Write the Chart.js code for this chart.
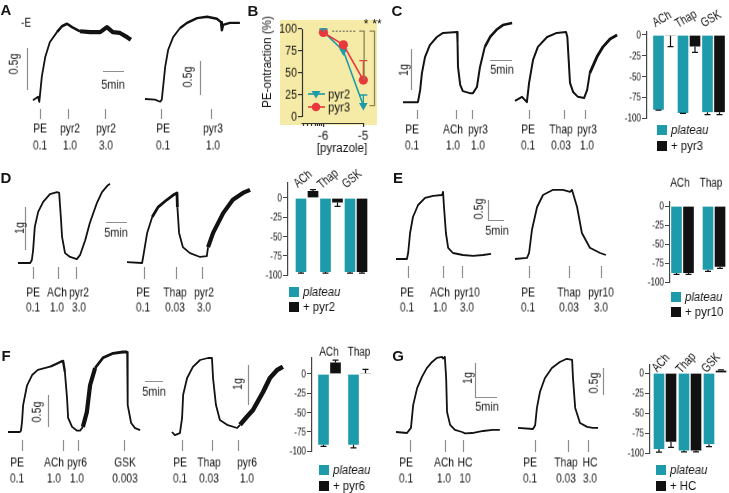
<!DOCTYPE html>
<html><head><meta charset="utf-8">
<script src="https://cdn.jsdelivr.net/npm/chart.js@4.4.1/dist/chart.umd.min.js"></script>
<style>
html,body{margin:0;padding:0;background:#fff;}
#fig{position:relative;width:729px;height:493px;overflow:hidden;background:#fff;}
canvas{position:absolute;}
.t{position:absolute;white-space:nowrap;line-height:1;will-change:transform;-webkit-font-smoothing:antialiased;}
</style></head><body><div id="fig"></div>
<script>
// ================= DATA =================
// Panel A traces: time (min) and tension (g) above baseline
const A1_t = [0, 1.2, 1.5, 2.1, 2.9, 4.0, 5.7, 6.9, 8.1, 9.3, 11.2, 13.6, 16.0, 17.6, 19.0, 20.7, 22.4, 23.3];
const A1_g = [0.01, 0.05, -0.01, 0.29, 0.52, 0.70, 0.82, 0.89, 0.92, 0.88, 0.83, 0.82, 0.82, 0.88, 0.82, 0.81, 0.76, 0.73];
const A1_evT = [1.7, 8.3, 17.1];
const A1_evN = ['PE', 'pyr2', 'pyr2'];
const A1_evC = ['0.1', '1.0', '3.0'];

const A2_t = [0, 2.4, 3.6, 4.0, 4.8, 5.5, 6.7, 8.3, 10.0, 12.4, 14.8, 17.1, 18.1, 18.3, 18.6, 20.2, 22.6];
const A2_g = [0, -0.01, -0.04, -0.01, 0.47, 0.72, 0.91, 1.04, 1.12, 1.19, 1.21, 1.18, 1.13, 1.01, 1.09, 1.12, 1.12];
const A2_evT = [3.8, 15.7];
const A2_evN = ['PE', 'pyr3'];
const A2_evC = ['0.1', '1.0'];

// Panel B: concentration-response
const B_conc = [-6, -5.5, -5];
const B_pyr2 = [97, 75, 13];
const B_pyr2_err = [3, 0, 12];
const B_pyr3 = [96, 82, 42];
const B_pyr3_err = [0, 0, 22];
const B_yticks = [0, 25, 50, 75, 100];
const B_xticks = [-6, -5];

// Panel C traces
const C1_t = [0, 3.4, 3.9, 4.3, 5.0, 6.1, 7.7, 9.1, 12.3, 12.4, 12.5, 13.0, 13.6, 15.2, 15.9, 16.8, 17.5, 18.6, 19.8, 21.4, 22.7, 24.8];
const C1_g = [0.02, 0.02, 0.32, 0.73, 1.12, 1.41, 1.61, 1.71, 1.73, 1.46, 0.88, 0.44, 0.29, 0.24, 0.24, 0.39, 0.88, 1.37, 1.61, 1.80, 1.90, 1.95];
const C1_evT = [3.2, 12.0, 15.7];
const C1_evN = ['PE', 'ACh', 'pyr3'];
const C1_evC = ['0.1', '1.0', '1.0'];

const C2_t = [0, 1.6, 2.7, 3.2, 4.1, 5.2, 7.3, 9.5, 11.6, 11.9, 12.2, 12.5, 13.2, 14.3, 15.7, 16.4, 17.0, 18.6, 20.0, 21.6, 23.2];
const C2_g = [0.05, 0.15, 0.02, 0.49, 1.05, 1.37, 1.61, 1.71, 1.73, 1.61, 1.05, 0.49, 0.27, 0.15, 0.12, 0.32, 0.73, 1.12, 1.37, 1.56, 1.66];
const C2_evT = [3.2, 11.1, 15.9];
const C2_evN = ['PE', 'Thap', 'pyr3'];
const C2_evC = ['0.1', '0.03', '1.0'];

// Panel C bars (% change)
const C_cats = ['ACh', 'Thap', 'GSK'];
const C_plateau = [-90, -94, -93];
const C_plateauErr = [0.5, 0.5, 3];
const C_pyr3 = [-1, -14, -93];
const C_pyr3Err = [13, 7, 3];

// Panel D traces
const D1_t = [0, 2.9, 3.3, 3.6, 4.0, 4.8, 6.0, 7.6, 9.3, 9.8, 10.2, 10.5, 11.2, 12.4, 14.0, 14.8, 16.0, 17.1, 18.8, 20.0, 21.4, 21.9];
const D1_g = [0, 0, 0.07, 0.30, 0.84, 1.19, 1.42, 1.60, 1.65, 1.63, 1.07, 0.60, 0.23, 0.14, 0.09, 0.19, 0.53, 0.93, 1.40, 1.65, 1.81, 1.84];
const D1_evT = [3.6, 9.5, 13.8];
const D1_evN = ['PE', 'ACh', 'pyr2'];
const D1_evC = ['0.1', '1.0', '3.0'];

const D2_t = [0, 3.6, 4.0, 4.8, 6.0, 7.4, 9.5, 11.0, 11.9, 12.0, 12.4, 13.3, 15.0, 17.4, 19.0, 19.3, 20.5, 22.9, 25.2, 27.6, 29.3];
const D2_g = [0.02, 0, 0.23, 0.70, 1.07, 1.30, 1.47, 1.58, 1.63, 1.30, 0.70, 0.37, 0.23, 0.14, 0.16, 0.37, 0.70, 1.16, 1.47, 1.63, 1.70];
const D2_evT = [4.0, 11.7, 17.9];
const D2_evN = ['PE', 'Thap', 'pyr2'];
const D2_evC = ['0.1', '0.03', '3.0'];

const D_cats = ['ACh', 'Thap', 'GSK'];
const D_plateau = [-96, -96, -96];
const D_plateauErr = [1.5, 1.5, 1.5];
const D_pyr2 = [9, -6, -96];
const D_pyr2Err = [2, 5, 1.5];

// Panel E traces
const E1_t = [0, 3.4, 3.8, 4.4, 5.3, 6.9, 9.1, 11.6, 14.4, 14.7, 15.0, 15.6, 16.3, 17.8, 20.9, 24.1, 27.2, 29.7];
const E1_g = [0, 0, 0.15, 0.65, 1.05, 1.35, 1.53, 1.58, 1.60, 1.68, 1.30, 0.65, 0.28, 0.15, 0.10, 0.08, 0.10, 0.13];
const E1_evT = [3.75, 14.7, 20.6];
const E1_evN = ['PE', 'ACh', 'pyr10'];
const E1_evC = ['0.1', '1.0', '3.0'];

const E2_t = [0, 3.75, 4.4, 5.3, 6.9, 8.75, 11.9, 15.0, 17.2, 17.8, 19.4, 20.9, 23.4, 26.6, 28.4];
const E2_g = [0, 0.03, 0.15, 0.73, 1.30, 1.60, 1.73, 1.73, 1.68, 1.73, 1.30, 0.65, 0.28, 0.15, 0.10];
const E2_evT = [4.4, 16.9, 26.9];
const E2_evN = ['PE', 'Thap', 'pyr10'];
const E2_evC = ['0.1', '0.03', '3.0'];

const E_cats = ['ACh', 'Thap'];
const E_plateau = [-88, -84];
const E_plateauErr = [2, 2];
const E_pyr10 = [-88, -80];
const E_pyr10Err = [2, 2];

// Panel F traces
const F1_t = [0, 3.3, 3.6, 3.9, 4.2, 5.3, 6.7, 8.3, 11.7, 14.4, 15.3, 15.8, 16.4, 16.7, 17.8, 19.2, 20.0, 20.8, 21.9, 22.8, 24.2, 26.4, 29.2, 31.9, 33.1, 33.2, 33.3, 34.2, 35.3, 36.7];
const F1_g = [0, 0, 0.02, 0.16, 0.42, 0.73, 0.89, 0.97, 1.02, 1.09, 1.11, 0.94, 0.53, 0.22, 0.08, 0.02, 0.02, 0.08, 0.31, 0.73, 1.00, 1.16, 1.23, 1.25, 1.25, 0.94, 0.42, 0.14, 0.06, 0.03];
const F1_evT = [3.9, 15.3, 19.4, 32.2];
const F1_evN = ['PE', 'ACh', 'pyr6', 'GSK'];
const F1_evC = ['0.1', '1.0', '1.0', '0.003'];

const F2_t = [0, 0.8, 2.2, 2.8, 3.1, 4.2, 5.8, 7.8, 10.0, 11.1, 11.4, 12.2, 13.3, 15.3, 18.1, 18.9, 20.8, 22.5, 25.3, 27.2, 29.2, 30.8];
const F2_g = [0, -0.08, -0.03, 0.35, 0.93, 1.35, 1.63, 1.80, 1.85, 1.85, 1.35, 0.68, 0.30, 0.18, 0.10, 0.18, 0.38, 0.55, 1.00, 1.35, 1.55, 1.63];
const F2_evT = [2.8, 11.1, 18.3];
const F2_evN = ['PE', 'Thap', 'pyr6'];
const F2_evC = ['0.1', '0.03', '1.0'];

const F_cats = ['ACh', 'Thap'];
const F_plateau = [-92, -92];
const F_plateauErr = [2, 4];
const F_pyr6 = [15, 1];
const F_pyr6Err = [3, 5];

// Panel G traces
const G1_t = [0, 2.5, 3.4, 3.9, 4.8, 5.9, 7.0, 8.2, 9.3, 10.5, 10.7, 11.1, 11.4, 11.6, 12.3, 13.4, 15.0, 15.7, 17.3, 19.8, 22.0, 23.6];
const G1_g = [0, -0.03, 0.12, 0.79, 1.29, 1.62, 1.88, 2.06, 2.18, 2.21, 2.16, 2.21, 1.59, 0.59, 0.21, 0.06, 0, -0.04, -0.03, 0.03, 0.06, 0.06];
const G1_evT = [3.2, 11.1, 15.2];
const G1_evN = ['PE', 'ACh', 'HC'];
const G1_evC = ['0.1', '1.0', '10'];

const G2_t = [0, 3.4, 3.9, 4.3, 5.0, 6.1, 7.7, 9.5, 11.1, 12.3, 12.5, 13.0, 14.1, 15.7, 17.0, 18.2];
const G2_g = [0.02, 0, 0.07, 0.39, 0.69, 0.94, 1.13, 1.24, 1.30, 1.28, 0.94, 0.39, 0.11, 0.04, 0.02, 0.02];
const G2_evT = [3.9, 11.4, 15.9];
const G2_evN = ['PE', 'Thap', 'HC'];
const G2_evC = ['0.1', '0.03', '3.0'];

const G_cats = ['ACh', 'Thap', 'GSK'];
const G_plateau = [-95, -97, -89];
const G_plateauErr = [4, 1.5, 3];
const G_HC = [-86, -97, 3];
const G_HCErr = [7, 1.5, 1];

const BAR_TICKS = [0, -25, -50, -75, -100];

// ================= STYLE / LAYOUT =================
const FONT = '"Liberation Sans Narrow","Liberation Sans",Arial,sans-serif';
const TEAL = '#1d9bab';
const RED = '#e8383d';
const YELLOW = '#f6eba6';
const SX = 0.79;
const LS = 13;
const fig = document.getElementById('fig');

function makeCanvas(l, t, r, b) {
  const c = document.createElement('canvas');
  c.width = r - l; c.height = b - t;
  c.style.left = l + 'px'; c.style.top = t + 'px';
  c.style.width = (r - l) + 'px'; c.style.height = (b - t) + 'px';
  fig.appendChild(c);
  return c;
}
const texts = [];
function txt(s, x, y, o = {}) { texts.push([s, x, y, o]); }
function flushTexts() {
  texts.forEach(([s, x, y, o]) => {
    const d = document.createElement('div');
    d.className = 't';
    d.textContent = s;
    const sx = o.sx !== undefined ? o.sx : SX;
    d.style.left = x + 'px'; d.style.top = y + 'px';
    d.style.fontFamily = FONT;
    d.style.fontSize = (o.size || LS) + 'px';
    d.style.fontWeight = o.bold ? '700' : '400';
    d.style.fontStyle = o.italic ? 'italic' : 'normal';
    d.style.color = o.color || '#151515';
    if (o.align === 'left') { d.style.transformOrigin = '0 50%'; d.style.transform = `translate(0,-50%) scaleX(${sx})`; }
    else if (o.align === 'right') { d.style.transformOrigin = '100% 50%'; d.style.transform = `translate(-100%,-50%) scaleX(${sx})`; }
    else { d.style.transform = `translate(-50%,-50%) rotate(${o.rot || 0}deg) scaleX(${sx})`; }
    fig.appendChild(d);
  });
}

const baseOpts = {responsive: false, animation: false, events: [], plugins: {legend: {display: false}, tooltip: {enabled: false}}};

function traceChart(tArr, gArr, evT, evN, evC, L) {
  const [l, t, r, b] = L.box;
  const c = makeCanvas(l, t, r, b);
  const xmin = (l - L.x0) / L.pxMin, xmax = (r - L.x0) / L.pxMin;
  const ymax = (L.y0 - t) / L.pxG, ymin = (L.y0 - b) / L.pxG;
  const base = L.base || 1.8;
  const wAt = x => { let w = base; for (const [a, bb, ww] of (L.thick || [])) if (x >= a && x < bb) w = ww; return w; };
  const ch = new Chart(c, {
    type: 'line',
    data: {datasets: [{data: tArr.map((v, i) => ({x: v, y: gArr[i]})), borderColor: '#121212', borderWidth: base,
      pointRadius: 0, tension: 0, fill: false, borderJoinStyle: 'round', borderCapStyle: 'butt',
      segment: {borderWidth: ctx => wAt(ctx.p0.parsed.x)}}]},
    options: Object.assign({}, baseOpts, {layout: {padding: 0},
      scales: {x: {type: 'linear', display: false, min: xmin, max: xmax}, y: {type: 'linear', display: false, min: ymin, max: ymax}}}),
    plugins: [{id: 'marks', afterDatasetsDraw(chart) {
      const ctx = chart.ctx, xs = chart.scales.x, ys = chart.scales.y;
      ctx.save(); ctx.strokeStyle = '#8e8e8e'; ctx.lineWidth = 1.2; ctx.beginPath();
      evT.forEach(v => { const px = Math.round(xs.getPixelForValue(v)) + 0.5; ctx.moveTo(px, L.tickY[0] - t); ctx.lineTo(px, L.tickY[1] - t); });
      (L.bars || []).forEach(sb => {
        if (sb.v) { const len = ys.getPixelForValue(0) - ys.getPixelForValue(sb.len); ctx.moveTo(sb.x - l + 0.5, sb.y - t); ctx.lineTo(sb.x - l + 0.5, sb.y - t - len); }
        else { const len = xs.getPixelForValue(sb.len) - xs.getPixelForValue(0); ctx.moveTo(sb.x - l, sb.y - t + 0.5); ctx.lineTo(sb.x - l + len, sb.y - t + 0.5); }
      });
      ctx.stroke(); ctx.restore();
    }}]
  });
  evT.forEach((v, i) => {
    const px = L.labX ? L.labX[i] : l + ch.scales.x.getPixelForValue(v);
    txt(evN[i], px, L.labY[0]); txt(evC[i], px, L.labY[1]);
  });
  (L.bars || []).forEach(sb => { if (sb.label) txt(sb.label, sb.lx, sb.ly, {rot: sb.v ? -90 : 0, sx: 0.86, size: 12.5}); });
  return ch;
}

const errPlugin = {id: 'errbars', afterDatasetsDraw(chart) {
  const ctx = chart.ctx, ys = chart.scales.y;
  chart.data.datasets.forEach((ds, di) => {
    if (!ds.errs) return;
    const meta = chart.getDatasetMeta(di);
    meta.data.forEach((el, i) => {
      const e = ds.errs[i]; if (!e) return;
      const v = ds.data[i].y; const sg = v < 0 ? -1 : 1;
      const y1 = ys.getPixelForValue(v + sg * e);
      const cap = ds.errCap || 3;
      ctx.save(); ctx.strokeStyle = ds.errColor || '#111'; ctx.lineWidth = ds.errWidth || 1.2;
      ctx.beginPath(); ctx.moveTo(el.x, el.y); ctx.lineTo(el.x, y1);
      ctx.moveTo(el.x - cap, y1); ctx.lineTo(el.x + cap, y1); ctx.stroke(); ctx.restore();
    });
  });
}};

function barChart(cats, v1, e1, v2, e2, name2, L) {
  const yW = 34, padT = 6, padB = 8;
  const l = L.axisX - yW, r = L.right;
  const areaTop = Math.round(L.zeroY - L.max * L.ppu), areaBot = Math.round(L.zeroY + 100 * L.ppu);
  const ymax = (L.zeroY - areaTop) / L.ppu;
  const top = areaTop - padT;
  const c = makeCanvas(l, top, r, areaBot + padB);
  const xmin = -L.off / L.pitch, xmax = xmin + (r - L.axisX) / L.pitch;
  const ch = new Chart(c, {
    type: 'bar',
    data: {datasets: [
      {data: cats.map((_, i) => ({x: i, y: v1[i]})), backgroundColor: TEAL, errs: e1},
      {data: cats.map((_, i) => ({x: i, y: v2[i]})), backgroundColor: '#111', errs: e2}]},
    options: Object.assign({}, baseOpts, {
      layout: {padding: {top: padT, bottom: padB, left: 0, right: 0}},
      datasets: {bar: {barThickness: 12, borderColor: '#fff', borderWidth: {left: 1, right: 1, top: 0, bottom: 0}, borderSkipped: false, clip: false}},
      scales: {
        x: {type: 'linear', display: false, min: xmin, max: xmax, offset: false},
        y: {type: 'linear', min: -100, max: ymax,
          afterBuildTicks: s => { s.ticks = BAR_TICKS.map(v => ({value: v})); },
          ticks: {display: false},
          grid: {drawOnChartArea: false, drawTicks: true, tickLength: 5, color: '#444', lineWidth: 1},
          border: {color: '#444', width: 1.2},
          afterFit: s => { s.width = yW; s.paddingTop = 0; s.paddingBottom = 0; }}
      }}),
    plugins: [errPlugin]
  });
  BAR_TICKS.forEach(v => txt(String(v), L.axisX - 6, top + ch.scales.y.getPixelForValue(v), {align: 'right', size: 11, sx: 0.74}));
  cats.forEach((cname, i) => {
    txt(cname, l + ch.scales.x.getPixelForValue(i) + L.ldx, L.ly, {rot: L.rot, size: 12.5, sx: 0.8});
  });
  legendItem(TEAL, L.leg[0], L.leg[1], 'plateau', true);
  legendItem('#111', L.leg[0], L.leg[1] + L.leg[2], name2, false);
  return ch;
}
function legendItem(color, x, y, label, italic) {
  const s = document.createElement('div');
  s.style.cssText = `position:absolute;left:${x - 5}px;top:${y - 5}px;width:10px;height:10px;background:${color}`;
  fig.appendChild(s);
  txt(label, x + 9, y, {align: 'left', italic: italic, size: 12, sx: 0.95});
}

// ---------- Traces ----------
traceChart(A1_t, A1_g, A1_evT, A1_evN, A1_evC, {box: [20, 15, 135, 122], x0: 33, y0: 101, pxMin: 4.2, pxG: 84, tickY: [109, 119], labY: [128, 145],
  labX: [39.5, 70, 106], base: 1.8, thick: [[5.7, 11, 2.6], [11, 24, 4.2]],
  bars: [{v: true, x: 27, y: 90, len: 0.5, label: '0.5g', lx: 14, ly: 64}, {v: false, x: 103, y: 71, len: 5, label: '5min', lx: 113, ly: 85}]});
traceChart(A2_t, A2_g, A2_evT, A2_evN, A2_evC, {box: [140, 10, 243, 122], x0: 145, y0: 99, pxMin: 4.2, pxG: 68, tickY: [109, 119], labY: [128, 145],
  labX: [162.5, 212.5], base: 1.8, thick: [[8, 23, 2.4]],
  bars: [{v: true, x: 200, y: 95, len: 0.5, label: '0.5g', lx: 188, ly: 77}]});
traceChart(C1_t, C1_g, C1_evT, C1_evN, C1_evC, {box: [398, 15, 515, 122], x0: 403, y0: 103, pxMin: 4.4, pxG: 41, tickY: [110, 119], labY: [129, 145],
  labX: [412, 453, 478], base: 2, thick: [[18, 25, 2.6]],
  bars: [{v: true, x: 411, y: 90, len: 1, label: '1g', lx: 404, ly: 70}, {v: false, x: 490, y: 60, len: 5, label: '5min', lx: 502, ly: 70}]});
traceChart(C2_t, C2_g, C2_evT, C2_evN, C2_evC, {box: [512, 15, 620, 122], x0: 515, y0: 103, pxMin: 4.4, pxG: 41, tickY: [110, 119], labY: [129, 145],
  labX: [528, 561, 587], base: 2, thick: [[17, 24, 2.8]], bars: []});
traceChart(D1_t, D1_g, D1_evT, D1_evN, D1_evC, {box: [14, 175, 128, 282], x0: 18, y0: 263, pxMin: 4.2, pxG: 43, tickY: [267, 279], labY: [292, 307],
  labX: [33, 57, 79], base: 1.8, thick: [],
  bars: [{v: true, x: 25, y: 250, len: 1, label: '1g', lx: 20, ly: 228}, {v: false, x: 106, y: 222, len: 5, label: '5min', lx: 116, ly: 233}]});
traceChart(D2_t, D2_g, D2_evT, D2_evN, D2_evC, {box: [123, 175, 253, 282], x0: 127, y0: 263, pxMin: 4.2, pxG: 43, tickY: [267, 279], labY: [292, 307],
  labX: [143, 175, 204], base: 1.8, thick: [[6, 12, 2.8], [19.2, 30, 4.2]], bars: []});
traceChart(E1_t, E1_g, E1_evT, E1_evN, E1_evC, {box: [392, 180, 510, 280], x0: 396, y0: 259, pxMin: 3.2, pxG: 40, tickY: [266, 278], labY: [292, 307],
  labX: [407, 440, 467], base: 1.8, thick: [],
  bars: [{v: true, x: 488, y: 220, len: 0.5, label: '0.5g', lx: 479, ly: 209}, {v: false, x: 488, y: 220, len: 5, label: '5min', lx: 497, ly: 231}]});
traceChart(E2_t, E2_g, E2_evT, E2_evN, E2_evC, {box: [510, 180, 608, 280], x0: 515, y0: 259, pxMin: 3.2, pxG: 40, tickY: [266, 278], labY: [292, 307],
  labX: [528, 569, 601], base: 1.8, thick: [], bars: []});
traceChart(F1_t, F1_g, F1_evT, F1_evN, F1_evC, {box: [4, 345, 170, 452], x0: 8, y0: 432, pxMin: 3.6, pxG: 64, tickY: [440, 451], labY: [462, 478],
  labX: [17, 54, 77, 125], base: 1.8, thick: [[11, 15.4, 2.4], [20.6, 24, 4.2], [24, 33, 2.8]],
  bars: [{v: true, x: 48, y: 427, len: 0.5, label: '0.5g', lx: 37, ly: 412}, {v: false, x: 145, y: 381, len: 5, label: '5min', lx: 154, ly: 392}]});
traceChart(F2_t, F2_g, F2_evT, F2_evN, F2_evC, {box: [168, 345, 287, 452], x0: 172, y0: 432, pxMin: 3.6, pxG: 40, tickY: [440, 451], labY: [462, 478],
  labX: [180, 208.5, 246.5], base: 1.8, thick: [[18.8, 31, 4.6]],
  bars: [{v: true, x: 248, y: 405, len: 1, label: '1g', lx: 238, ly: 384}]});
traceChart(G1_t, G1_g, G1_evT, G1_evN, G1_evC, {box: [392, 350, 510, 455], x0: 396, y0: 432, pxMin: 4.4, pxG: 34, tickY: [440, 452], labY: [462, 478],
  labX: [406, 444, 465], base: 1.8, thick: [],
  bars: [{v: true, x: 475, y: 397, len: 1, label: '1g', lx: 468, ly: 378}, {v: false, x: 475, y: 397, len: 5, label: '5min', lx: 487, ly: 407}]});
traceChart(G2_t, G2_g, G2_evT, G2_evN, G2_evC, {box: [512, 350, 610, 455], x0: 518, y0: 429, pxMin: 4.4, pxG: 54, tickY: [440, 452], labY: [462, 478],
  labX: [530, 566, 590], base: 1.8, thick: [],
  bars: [{v: true, x: 603, y: 395, len: 0.5, label: '0.5g', lx: 594, ly: 383}]});

// ---------- Bar charts ----------
barChart(C_cats, C_plateau, C_plateauErr, C_pyr3, C_pyr3Err, '+ pyr3', {axisX: 647, zeroY: 35, ppu: 0.83, max: 4, off: 17.5, pitch: 24.5, right: 727, ldx: -3, ly: 19, rot: -30, leg: [662, 130, 16]});
barChart(D_cats, D_plateau, D_plateauErr, D_pyr2, D_pyr2Err, '+ pyr2', {axisX: 288, zeroY: 198, ppu: 0.77, max: 20, off: 19, pitch: 24.5, right: 370, ldx: -4, ly: 179, rot: -40, leg: [294, 292, 15]});
barChart(E_cats, E_plateau, E_plateauErr, E_pyr10, E_pyr10Err, '+ pyr10', {axisX: 670, zeroY: 206, ppu: 0.76, max: 5, off: 12.5, pitch: 31.5, right: 728, ldx: -3, ly: 183, rot: 0, leg: [676, 297, 15]});
barChart(F_cats, F_plateau, F_plateauErr, F_pyr6, F_pyr6Err, '+ pyr6', {axisX: 312, zeroY: 374, ppu: 0.77, max: 21, off: 17.5, pitch: 30, right: 374, ldx: -1, ly: 352, rot: 0, leg: [324, 470, 16]});
barChart(G_cats, G_plateau, G_plateauErr, G_HC, G_HCErr, '+ HC', {axisX: 650, zeroY: 373, ppu: 0.80, max: 10, off: 15, pitch: 25, right: 728, ldx: -4, ly: 363, rot: -48, leg: [661, 470, 16]});

// ---------- Panel B ----------
(function () {
  const P = {left: 262, top: 14, right: 381, bottom: 146, axisX: 302, areaR: 378, zeroY: 117, ppu: 0.88, areaTop: 24, areaBot: 123, x6: 324, x5: 365};
  const dec = P.x5 - P.x6;
  const xmin = -6 - (P.x6 - P.axisX) / dec, xmax = -5 + (P.areaR - P.x5) / dec;
  const ymax = (P.zeroY - P.areaTop) / P.ppu, ymin = (P.zeroY - P.areaBot) / P.ppu;
  const c = makeCanvas(P.left, P.top, P.right, P.bottom);
  const bgPlugin = {id: 'bg', beforeDraw(ch) { const ctx = ch.ctx; ctx.save(); ctx.fillStyle = YELLOW; ctx.fillRect(280 - P.left, 20 - P.top, 97, 105); ctx.restore(); }};
  const annot = {id: 'annot', afterDatasetsDraw(ch) {
    const ctx = ch.ctx, xs = ch.scales.x, ys = ch.scales.y, ca = ch.chartArea;
    ctx.save();
    ctx.strokeStyle = '#333'; ctx.lineWidth = 1.2; ctx.beginPath();
    ctx.moveTo(ca.left + 0.5, ys.getPixelForValue(0)); ctx.lineTo(ca.left + 0.5, ys.getPixelForValue(100));
    const yb = ca.bottom + 0.5;
    ctx.moveTo(xs.getPixelForValue(-6.55), yb); ctx.lineTo(xs.getPixelForValue(-5), yb);
    [-6.52, -6.40, -6.30, -6.22, -6.15, -6.10, -6.05].forEach(v => { const px = Math.round(xs.getPixelForValue(v)) + 0.5; ctx.moveTo(px, yb); ctx.lineTo(px, yb + 2.5); });
    ctx.stroke();
    ctx.strokeStyle = '#555'; ctx.lineWidth = 1; ctx.setLineDash([2, 1.5]); ctx.beginPath();
    ctx.moveTo(xs.getPixelForValue(-5.78), ys.getPixelForValue(97.5)); ctx.lineTo(xs.getPixelForValue(-5.17), ys.getPixelForValue(97.5)); ctx.stroke();
    ctx.setLineDash([]); ctx.strokeStyle = '#8a8456'; ctx.lineWidth = 1.3; ctx.beginPath();
    let bx = xs.getPixelForValue(-4.98);
    ctx.moveTo(bx - 5, ys.getPixelForValue(97.5)); ctx.lineTo(bx, ys.getPixelForValue(97.5)); ctx.lineTo(bx, ys.getPixelForValue(42));
    bx = xs.getPixelForValue(-4.72);
    ctx.moveTo(bx - 5, ys.getPixelForValue(97.5)); ctx.lineTo(bx, ys.getPixelForValue(97.5)); ctx.lineTo(bx, ys.getPixelForValue(13)); ctx.lineTo(bx - 5, ys.getPixelForValue(13));
    ctx.stroke();
    const lx0 = 308 - P.left, lx1 = 325 - P.left, mx = 316 - P.left;
    [[TEAL, 94, 'tri'], [RED, 107, 'circ']].forEach(([col, py, shape]) => {
      const y = py - P.top;
      ctx.strokeStyle = col; ctx.fillStyle = col; ctx.lineWidth = 1.6;
      ctx.beginPath(); ctx.moveTo(lx0, y); ctx.lineTo(lx1, y); ctx.stroke();
      ctx.beginPath();
      if (shape === 'tri') { ctx.moveTo(mx - 4.5, y - 3); ctx.lineTo(mx + 4.5, y - 3); ctx.lineTo(mx, y + 4.5); ctx.closePath(); }
      else { ctx.arc(mx, y, 4.3, 0, Math.PI * 2); }
      ctx.fill();
    });
    ctx.restore();
  }};
  const ch = new Chart(c, {
    type: 'line',
    data: {datasets: [
      {data: B_conc.map((v, i) => ({x: v, y: B_pyr3[i]})), borderColor: RED, backgroundColor: RED, borderWidth: 1.6, pointRadius: 4.6, pointStyle: 'circle', pointBorderWidth: 0, errs: B_pyr3_err, errColor: RED, errCap: 4, errWidth: 1.3, order: 0},
      {data: B_conc.map((v, i) => ({x: v, y: B_pyr2[i]})), borderColor: TEAL, backgroundColor: TEAL, borderWidth: 1.6, pointRadius: 5, pointStyle: 'triangle', pointRotation: 180, pointBorderWidth: 0, errs: B_pyr2_err, errColor: TEAL, errCap: 4, errWidth: 1.3, order: 1}]},
    options: Object.assign({}, baseOpts, {
      layout: {padding: {top: P.areaTop - P.top, right: P.right - P.areaR, left: 0, bottom: 0}},
      scales: {
        x: {type: 'linear', min: xmin, max: xmax,
          afterBuildTicks: s => { s.ticks = B_xticks.map(v => ({value: v})); },
          ticks: {display: false},
          grid: {drawOnChartArea: false, drawTicks: true, tickLength: 4, color: '#333', lineWidth: 1.2}, border: {display: false},
          afterFit: s => { s.height = P.bottom - P.areaBot; s.paddingLeft = 0; s.paddingRight = 0; }},
        y: {type: 'linear', min: ymin, max: ymax,
          afterBuildTicks: s => { s.ticks = B_yticks.map(v => ({value: v})); },
          ticks: {display: false},
          grid: {drawOnChartArea: false, drawTicks: true, tickLength: 4, color: '#333', lineWidth: 1.2}, border: {display: false},
          afterFit: s => { s.width = P.axisX - P.left; s.paddingTop = 0; s.paddingBottom = 0; }}
      }}),
    plugins: [bgPlugin, errPlugin, annot]
  });
  B_yticks.forEach(v => txt(String(v), P.axisX - 5, P.top + ch.scales.y.getPixelForValue(v), {align: 'right', size: 12.5, sx: 0.86}));
  B_xticks.forEach(v => txt(String(v), P.left + ch.scales.x.getPixelForValue(v), 136, {size: 12.5, sx: 0.95}));
  txt('PE-ontraction (%)', 267, 62, {rot: -90, size: 12, sx: 0.97});
  txt('[pyrazole]', 342, 148, {size: 12, sx: 0.97});
  txt('pyr2', 328, 94, {align: 'left', size: 13, sx: 0.88});
  txt('pyr3', 328, 107, {align: 'left', size: 13, sx: 0.88});
  txt('*', 366, 24, {size: 12, sx: 1});
  txt('**', 377, 24, {size: 12, sx: 1});
})();

// ---------- Panel letters and misc text ----------
txt('A', 6, 9, {bold: true, size: 15, sx: 1});
txt('B', 253, 10, {bold: true, size: 15, sx: 1});
txt('C', 397, 10, {bold: true, size: 15, sx: 1});
txt('D', 6, 177, {bold: true, size: 15, sx: 1});
txt('E', 398, 177, {bold: true, size: 15, sx: 1});
txt('F', 6, 355, {bold: true, size: 15, sx: 1});
txt('G', 398, 355, {bold: true, size: 15, sx: 1});
txt('-E', 26, 23, {size: 12.5});

flushTexts();
</script>
</body></html>
